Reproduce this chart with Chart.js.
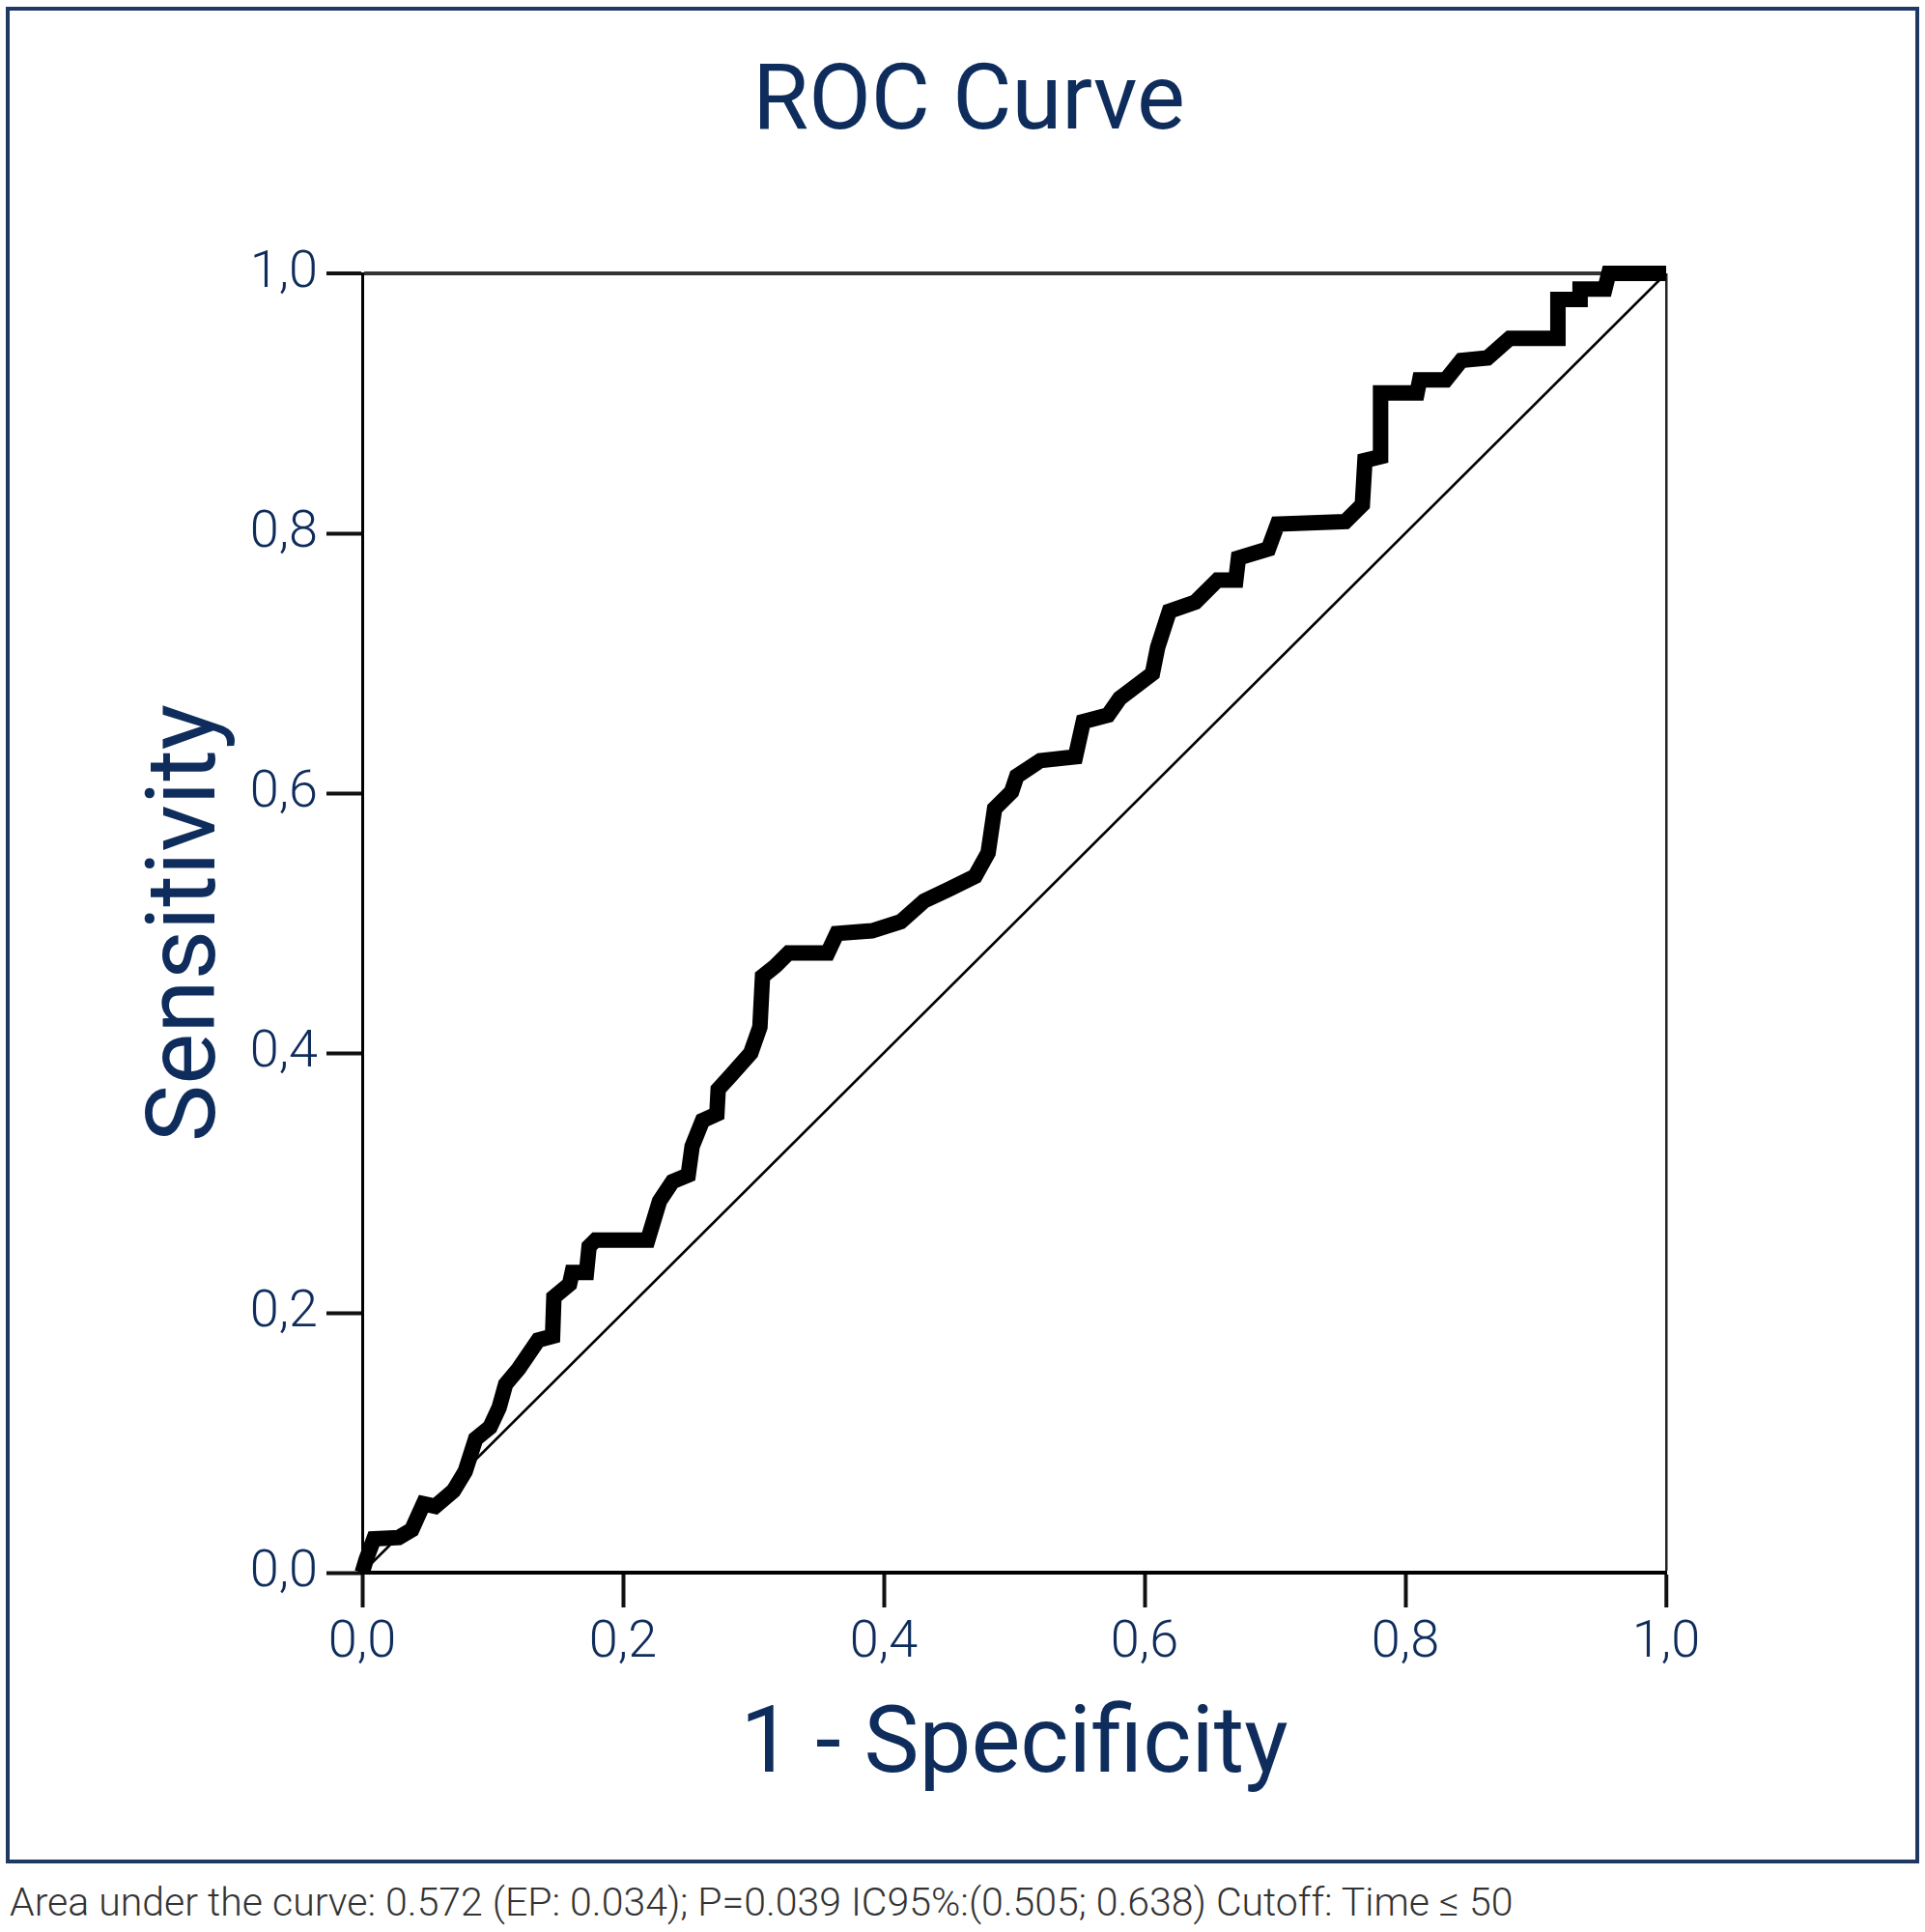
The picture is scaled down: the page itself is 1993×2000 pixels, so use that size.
<!DOCTYPE html>
<html><head><meta charset="utf-8">
<script src="https://cdn.jsdelivr.net/npm/chart.js@4.4.1/dist/chart.umd.min.js"></script>
<style>
html,body{margin:0;padding:0;background:#fff;overflow:hidden;}
#wrap{position:relative;width:1993px;height:2000px;}
#frame{position:absolute;left:6px;top:7px;width:1981px;height:1922px;border:4px solid #1f3864;box-sizing:border-box;pointer-events:none;}
#title{position:absolute;left:0;top:54px;width:2006px;text-align:center;font-family:Roboto;font-size:94px;line-height:1;color:#0f2d5c;}
#note{position:absolute;left:10px;top:1949px;font-family:Roboto;font-weight:300;font-size:41px;line-height:1;color:#333;white-space:nowrap;}
canvas{position:absolute;left:0;top:0;}
</style></head><body>
<div id="wrap">
<canvas id="c" width="1993" height="1920"></canvas>
<div id="title">ROC Curve</div>
<div id="frame"></div>
<div id="note">Area under the curve: 0.572 (EP: 0.034); P=0.039 IC95%:(0.505; 0.638) Cutoff: Time ≤ 50</div>
</div>
<script>
const fpr = [0.000,0.003,0.009,0.028,0.038,0.047,0.056,0.070,0.079,0.087,0.098,0.105,0.110,0.120,0.135,0.146,0.147,0.159,0.161,0.172,0.174,0.179,0.219,0.228,0.238,0.250,0.253,0.261,0.272,0.273,0.283,0.298,0.305,0.307,0.317,0.327,0.357,0.364,0.391,0.413,0.431,0.450,0.470,0.480,0.485,0.498,0.502,0.520,0.547,0.553,0.572,0.581,0.606,0.610,0.619,0.639,0.656,0.670,0.672,0.695,0.702,0.754,0.767,0.769,0.781,0.781,0.809,0.811,0.831,0.843,0.863,0.880,0.917,0.917,0.934,0.934,0.953,0.956,1.000];
const tpr = [0.000,0.010,0.026,0.027,0.033,0.053,0.051,0.063,0.078,0.103,0.112,0.127,0.145,0.157,0.179,0.182,0.212,0.222,0.231,0.231,0.251,0.256,0.256,0.286,0.301,0.306,0.328,0.348,0.353,0.372,0.383,0.400,0.420,0.459,0.467,0.477,0.477,0.492,0.494,0.501,0.517,0.526,0.536,0.554,0.588,0.601,0.613,0.625,0.628,0.655,0.660,0.673,0.692,0.712,0.740,0.747,0.764,0.764,0.781,0.788,0.807,0.809,0.822,0.856,0.859,0.908,0.908,0.918,0.918,0.933,0.935,0.950,0.950,0.980,0.980,0.988,0.988,1.000,1.000];
const refX = [0, 1];
const refY = [0, 1];
const tickValues = [0, 0.2, 0.4, 0.6, 0.8, 1];
const tickLabels = ['0,0', '0,2', '0,4', '0,6', '0,8', '1,0'];
const xTitle = '1 - Specificity';
const yTitle = 'Sensitivity';

const navy = '#0f2d5c';
function labelFor(v) {
  const i = tickValues.findIndex(t => Math.abs(t - v) < 1e-6);
  return i >= 0 ? tickLabels[i] : '';
}
const tickFont = {family: 'Roboto', size: 54, weight: '300'};

new Chart(document.getElementById('c'), {
  type: 'scatter',
  data: {
    datasets: [
      {
        data: fpr.map((x, i) => ({x: x, y: tpr[i]})),
        showLine: true, borderColor: '#000', borderWidth: 16,
        borderJoinStyle: 'miter', pointRadius: 0, order: 0, clip: false, tension: 0
      },
      {
        data: refX.map((x, i) => ({x: x, y: refY[i]})),
        showLine: true, borderColor: '#000', borderWidth: 2.5,
        pointRadius: 0, order: 1, clip: false
      }
    ]
  },
  options: {
    responsive: false, animation: false, devicePixelRatio: 1,
    layout: {padding: {left: 0, top: 283, right: 268, bottom: 0}},
    plugins: {legend: {display: false}, tooltip: {enabled: false}, title: {display: false}},
    scales: {
      x: {
        type: 'linear', position: 'bottom', min: 0, max: 1,
        afterFit: s => { s.height = 292; },
        ticks: {stepSize: 0.2, callback: v => labelFor(v), font: tickFont, color: navy, padding: 5, maxRotation: 0, autoSkip: false},
        grid: {
          drawOnChartArea: true, drawTicks: true, tickLength: 36, tickWidth: 4, tickColor: '#111',
          color: c => (c.tick && c.tick.value === 1) ? '#222' : 'rgba(0,0,0,0)',
          lineWidth: c => (c.tick && c.tick.value === 1) ? 2.5 : 1
        },
        border: {display: true, color: '#000', width: 4},
        title: {display: true, text: xTitle, color: navy, font: {family: 'Roboto', size: 96, weight: '400'}, padding: {top: 0, bottom: 52}}
      },
      y: {
        type: 'linear', position: 'left', min: 0, max: 1,
        afterFit: s => { s.width = 375; },
        ticks: {stepSize: 0.2, callback: v => labelFor(v), font: tickFont, color: navy, padding: 9, autoSkip: false},
        grid: {
          drawOnChartArea: true, drawTicks: true, tickLength: 37, tickWidth: 4, tickColor: '#111',
          color: c => (c.tick && c.tick.value === 1) ? '#333' : 'rgba(0,0,0,0)',
          lineWidth: c => (c.tick && c.tick.value === 1) ? 4 : 1
        },
        border: {display: true, color: '#000', width: 3},
        title: {display: true, text: yTitle, color: navy, font: {family: 'Roboto', size: 100, weight: '400'}, padding: {top: 137, bottom: 0}}
      }
    }
  }
});
</script>
</body></html>
